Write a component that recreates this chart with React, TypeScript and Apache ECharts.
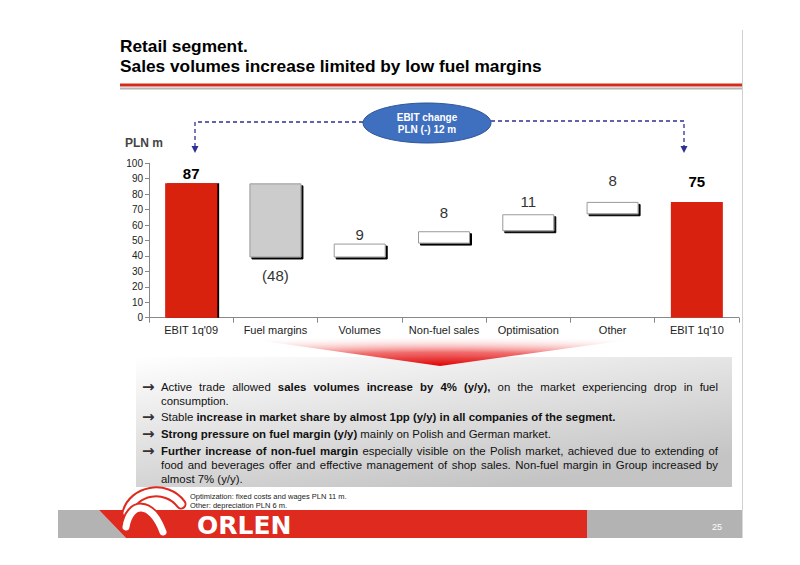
import React, { useEffect, useRef } from "react";
import * as echarts from "echarts";

// ---------- data ----------
const categories = ["EBIT 1q'09", "Fuel margins", "Volumes", "Non-fuel sales", "Optimisation", "Other", "EBIT 1q'10"];
const changes = [87, -48, 9, 8, 11, 8, 75];
const isTotal = [true, false, false, false, false, false, true];
const valueLabels = ["87", "(48)", "9", "8", "11", "8", "75"];
const yMin = 0;
const yMax = 100;
const yStep = 10;

const titleLines = ["Retail segment.", "Sales volumes increase limited by low fuel margins"];
const unitLabel = "PLN m";
const bubbleLines = ["EBIT change", "PLN (-) 12 m"];
// each paragraph: list of lines; each line: list of [text, bold]
const paragraphs: [string, boolean][][][] = [
  [
    [["Active trade allowed ", false], ["sales volumes increase by 4% (y/y),", true], [" on the market experiencing drop in fuel", false]],
    [["consumption.", false]],
  ],
  [
    [["Stable ", false], ["increase in market share by almost 1pp (y/y) in all companies of the segment.", true]],
  ],
  [
    [["Strong pressure on fuel margin (y/y)", true], [" mainly on Polish and German market.", false]],
  ],
  [
    [["Further increase of non-fuel margin", true], [" especially visible on the Polish market, achieved due to extending of", false]],
    [["food and beverages offer and effective management of shop sales. Non-fuel margin in Group increased by", false]],
    [["almost 7% (y/y).", false]],
  ],
];
const notes = ["Optimization: fixed costs and wages PLN 11 m.", "Other: depreciation PLN 6 m."];
const brand = "ORLEN";
const pageNumber = "25";

// ---------- styles ----------
const FONT = '"Liberation Sans", Arial, Helvetica, sans-serif';
const RED = "#d8210f";
const LABEL_GAP = [2, 11, 2, 11, 5, 14, 13];
const BODY_SIZE = 11.4;
const TEXT_LEFT = 161;
const TEXT_RIGHT = 718;

let measureCtx: CanvasRenderingContext2D | null = null;
function measure(text: string, font: string): number {
  if (!measureCtx) measureCtx = document.createElement("canvas").getContext("2d");
  if (!measureCtx) return text.length * 6;
  measureCtx.font = font;
  return measureCtx.measureText(text).width;
}

export default function App() {
  const ref = useRef<HTMLDivElement>(null);

  useEffect(() => {
    if (!ref.current) return;
    const chart = echarts.init(ref.current, undefined, { renderer: "svg" });

    // waterfall geometry from data
    const bases: number[] = [];
    const heights: number[] = [];
    let running = 0;
    changes.forEach((c, i) => {
      if (isTotal[i]) {
        bases.push(0);
        heights.push(c);
        running = c;
      } else {
        bases.push(c < 0 ? running + c : running);
        heights.push(Math.abs(c));
        running += c;
      }
    });

    const valueData = heights.map((h, i) => {
      const neg = changes[i] < 0;
      const total = isTotal[i];
      const last = i === changes.length - 1;
      return {
        value: h,
        itemStyle: total
          ? {
              color: RED,
              shadowColor: last ? "rgba(0,0,0,0)" : "#000",
              shadowOffsetX: last ? 0 : 2,
              shadowOffsetY: 0,
              shadowBlur: 0,
            }
          : {
              color: neg ? "#cccccc" : "#ffffff",
              borderColor: "#9a9a9a",
              borderWidth: 1,
              shadowColor: "#000",
              shadowOffsetX: 2,
              shadowOffsetY: 2,
              shadowBlur: 0,
            },
        label: {
          show: true,
          position: neg ? "bottom" : "top",
          distance: LABEL_GAP[i],
          formatter: valueLabels[i],
          fontFamily: FONT,
          fontSize: 15,
          fontWeight: total ? "bold" : "normal",
          color: total ? "#000" : "#333",
        },
      };
    });

    const graphics: any[] = [];
    const txt = (x: number, y: number, text: string, font: string, fill: string, align = "left", z = 10) => ({
      type: "text",
      x,
      y,
      z,
      style: { text, font, fill, align, verticalAlign: "middle" },
    });

    // title
    graphics.push(txt(120, 46, titleLines[0], `bold 17.3px ${FONT}`, "#000"));
    graphics.push(txt(120, 66, titleLines[1], `bold 17.3px ${FONT}`, "#000"));
    graphics.push({ type: "rect", shape: { x: 120, y: 83.5, width: 622, height: 3 }, style: { fill: "#d42a1c" } });
    graphics.push({ type: "rect", shape: { x: 120, y: 87.5, width: 622, height: 2 }, style: { fill: "#b4b4b4" } });
    graphics.push({ type: "line", shape: { x1: 742.5, y1: 30, x2: 742.5, y2: 510 }, style: { stroke: "#d0d0d0", lineWidth: 1 } });

    // unit
    graphics.push(txt(125, 143, unitLabel, `bold 12px ${FONT}`, "#444"));

    // bubble + dashed arrows
    const DASH = "#2e3192";
    graphics.push({
      type: "polyline",
      shape: { points: [[363, 122], [195, 122], [195, 146]] },
      style: { stroke: DASH, lineWidth: 1.3, lineDash: [4, 3], fill: null },
    });
    graphics.push({ type: "polygon", shape: { points: [[191.5, 146], [198.5, 146], [195, 153]] }, style: { fill: DASH } });
    graphics.push({
      type: "polyline",
      shape: { points: [[491, 121], [684, 121], [684, 146]] },
      style: { stroke: DASH, lineWidth: 1.3, lineDash: [4, 3], fill: null },
    });
    graphics.push({ type: "polygon", shape: { points: [[680.5, 146], [687.5, 146], [684, 153]] }, style: { fill: DASH } });
    graphics.push({
      type: "ellipse",
      shape: { cx: 427, cy: 123, rx: 64, ry: 20 },
      style: { fill: "#3f6fbf", stroke: "#2f5597", lineWidth: 1 },
    });
    graphics.push(txt(427, 117, bubbleLines[0], `bold 10px ${FONT}`, "#fff", "center"));
    graphics.push(txt(427, 129, bubbleLines[1], `bold 10px ${FONT}`, "#fff", "center"));

    // text box
    graphics.push({
      type: "rect",
      z: 1,
      shape: { x: 136, y: 357, width: 596, height: 130 },
      style: {
        fill: {
          type: "linear",
          x: 0,
          y: 0,
          x2: 0.6,
          y2: 1,
          colorStops: [
            { offset: 0, color: "#ffffff" },
            { offset: 1, color: "#c4c4c4" },
          ],
        },
      },
    });
    // red funnel
    graphics.push({
      type: "polygon",
      z: 2,
      shape: { points: [[235, 337], [650, 337], [440, 366]] },
      style: {
        fill: {
          type: "radial",
          x: 0.5,
          y: 1,
          r: 1.05,
          colorStops: [
            { offset: 0, color: "rgba(225,0,0,1)" },
            { offset: 0.45, color: "rgba(235,60,60,0.75)" },
            { offset: 1, color: "rgba(255,255,255,0)" },
          ],
        },
      },
    });

    // bullets (justified where the reference is)
    const fontN = `${BODY_SIZE}px ${FONT}`;
    const fontB = `bold ${BODY_SIZE}px ${FONT}`;
    let y = 386.7;
    paragraphs.forEach((para, pi) => {
      if (pi > 0) y += 16.7;
      para.forEach((line, li) => {
        if (li > 0) y += 14;
        if (li === 0) graphics.push(txt(142, y, "→", `bold 15px "DejaVu Sans", ${FONT}`, "#333"));
        const justify = li < para.length - 1;
        let text: string;
        const rich: any = {
          n: { font: fontN, fill: "#111" },
          b: { font: fontB, fill: "#111" },
        };
        if (justify) {
          let pendingSpace = false;
          const seq: ({ w: string; b: boolean } | null)[] = [];
          line.forEach(([t, b]) => {
            const pieces = t.split(" ");
            pieces.forEach((p, k) => {
              if (k > 0) seq.push(null);
              if (p.length) seq.push({ w: p, b });
            });
          });
          const words: { w: string; b: boolean }[] = [];
          const gapsBefore: boolean[] = [];
          seq.forEach((s) => {
            if (s === null) {
              pendingSpace = true;
            } else {
              words.push(s);
              gapsBefore.push(words.length > 1 && pendingSpace);
              pendingSpace = false;
            }
          });
          const total = words.reduce((acc, wd) => acc + measure(wd.w, wd.b ? fontB : fontN), 0);
          const nGaps = gapsBefore.filter(Boolean).length;
          const spaceW = nGaps ? (TEXT_RIGHT - TEXT_LEFT - total) / nGaps : 4;
          rich.s = { font: fontN, fill: "#111", width: spaceW };
          text = words.map((wd, k) => (gapsBefore[k] ? "{s| }" : "") + `{${wd.b ? "b" : "n"}|${wd.w}}`).join("");
        } else {
          text = line.map(([t, b]) => `{${b ? "b" : "n"}|${t}}`).join("");
        }
        graphics.push({
          type: "text",
          x: TEXT_LEFT,
          y,
          z: 10,
          style: { text, verticalAlign: "middle", rich },
        });
      });
    });

    // footer notes
    graphics.push(txt(190, 496.5, notes[0], `7.5px ${FONT}`, "#222", "left", 20));
    graphics.push(txt(190, 505, notes[1], `7.5px ${FONT}`, "#222", "left", 20));

    // footer band
    graphics.push({ type: "polygon", shape: { points: [[58, 510], [99, 510], [126, 538], [58, 538]] }, style: { fill: "#b3b3b3" } });
    graphics.push({ type: "polygon", shape: { points: [[99, 510], [587, 510], [587, 538], [126, 538]] }, style: { fill: "#de2a1f" } });
    graphics.push({ type: "rect", shape: { x: 587, y: 510, width: 155.5, height: 28 }, style: { fill: "#b3b3b3" } });
    graphics.push(txt(717, 527, pageNumber, `9px ${FONT}`, "#fff", "center"));
    graphics.push(txt(197, 525, brand, `bold 25px "DejaVu Sans", ${FONT}`, "#fff"));

    // logo strokes
    const curve = (s: any, w: number, c: string, z: number) => ({
      type: "bezierCurve",
      z,
      shape: s,
      style: { stroke: c, lineWidth: w, fill: null, lineCap: "round" },
    });
    const outer = { x1: 127, y1: 513, cpx1: 133, cpy1: 490, cpx2: 166, cpy2: 484, x2: 181, y2: 504 };
    const inner = { x1: 126, y1: 527, cpx1: 130, cpy1: 502, cpx2: 151, cpy2: 500, x2: 163, y2: 532 };
    graphics.push(curve(outer, 11, "#de2a1f", 11));
    graphics.push(curve(outer, 7, "#fff", 12));
    graphics.push(curve(inner, 11, "#de2a1f", 13));
    graphics.push(curve(inner, 7, "#fff", 14));

    chart.setOption({
      animation: false,
      backgroundColor: "#fff",
      grid: { left: 149, right: 61, top: 163.3, bottom: 247.3, containLabel: false },
      xAxis: {
        type: "category",
        data: categories,
        axisLine: { lineStyle: { color: "#888", width: 1 } },
        axisTick: { show: true, length: 5, lineStyle: { color: "#888" } },
        axisLabel: { fontFamily: FONT, fontSize: 11, color: "#222", margin: 7, interval: 0 },
      },
      yAxis: {
        type: "value",
        min: yMin,
        max: yMax,
        interval: yStep,
        axisLine: { show: true, lineStyle: { color: "#888", width: 1 } },
        axisTick: { show: true, length: 4, lineStyle: { color: "#888" } },
        axisLabel: { fontFamily: FONT, fontSize: 10, color: "#222", margin: 6 },
        splitLine: { show: false },
      },
      series: [
        {
          type: "bar",
          stack: "w",
          silent: true,
          data: bases,
          barWidth: 52,
          itemStyle: { color: "rgba(0,0,0,0)" },
        },
        {
          type: "bar",
          stack: "w",
          barWidth: 52,
          data: valueData,
        },
      ],
      graphic: { elements: graphics },
    });

    return () => chart.dispose();
  }, []);

  return (
    <div
      ref={ref}
      style={{ position: "absolute", left: 0, top: 0, width: 800, height: 565, background: "#fff" }}
    />
  );
}
